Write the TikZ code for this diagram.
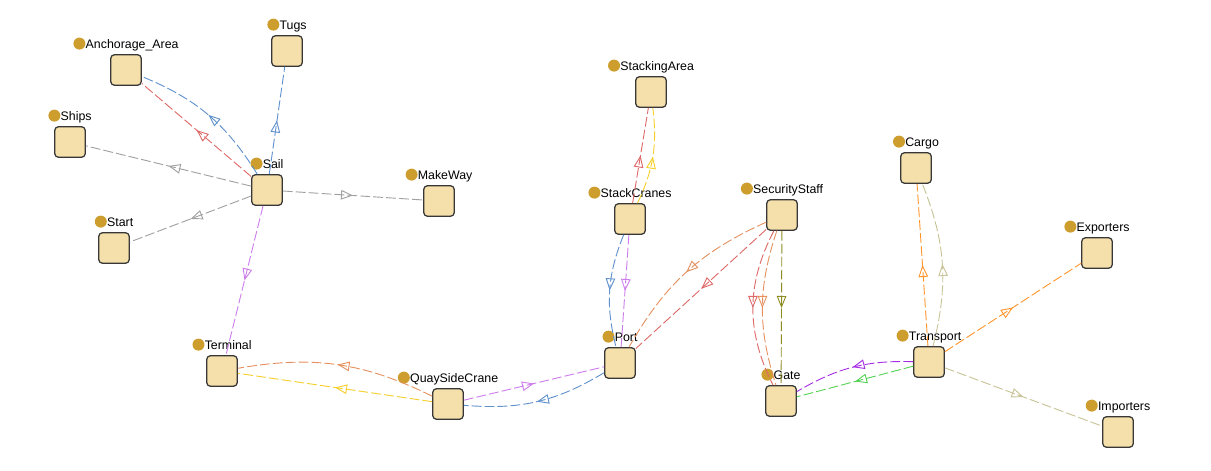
\documentclass[tikz,border=0pt]{standalone}
\usepackage{fontspec}
\setmainfont{Liberation Sans}
\usepackage{xcolor}
\usetikzlibrary{arrows.meta,decorations.markings}
\definecolor{boxfill}{RGB}{245,223,170}
\definecolor{boxline}{RGB}{55,55,55}
\definecolor{dotgold}{RGB}{205,158,45}
\definecolor{cgray}{RGB}{160,160,160}
\definecolor{cred}{RGB}{222,105,105}
\definecolor{cblue}{RGB}{95,145,205}
\definecolor{cviolet}{RGB}{205,125,235}
\definecolor{corange}{RGB}{228,145,95}
\definecolor{cyellow}{RGB}{245,208,45}
\definecolor{colive}{RGB}{140,140,35}
\definecolor{cpurple}{RGB}{165,45,230}
\definecolor{cgreen}{RGB}{85,210,85}
\definecolor{camber}{RGB}{255,150,45}
\definecolor{ckhaki}{RGB}{200,195,150}
\newcommand{\dotm}{\tikz[baseline=-3.5pt]\fill[dotgold] (0,0) circle (0.15cm);\hspace{0.2pt}}

\begin{document}
\begin{tikzpicture}[x=0.025cm, y=0.025cm,
  every node/.style={font=\fontsize{8.8}{10}\selectfont},
  lbl/.style={inner sep=0pt, outer sep=0pt, text depth=0pt, label distance=4pt},
  box/.style={draw=boxline, fill=boxfill, line width=0.9pt, rounded corners=2.5pt,
              minimum size=0.76cm, inner sep=0pt},
  link/.style={line width=0.65pt, dash pattern=on 7pt off 2.2pt,
               postaction={decorate},
               decoration={markings, mark=at position 0.5 with
                 {\arrow{Triangle[open, length=3mm, width=2.4mm]}}}}
]
\useasboundingbox (0,0) rectangle (1211,-471);
% concepts
\node[box, label={[lbl]above:\dotm Anchorage\_Area}] (anchorage) at (126,-70) {};
\node[box, label={[lbl]above:\dotm Tugs}] (tugs) at (287,-51) {};
\node[box, label={[lbl]above:\dotm Ships}] (ships) at (70,-142) {};
\node[box, label={[lbl]above:\dotm Sail}] (sail) at (267,-190) {};
\node[box, label={[lbl]above:\dotm Start}] (start) at (114,-248) {};
\node[box, label={[lbl]above:\dotm MakeWay}] (makeway) at (439,-201) {};
\node[box, label={[lbl]above:\dotm StackingArea}] (stackarea) at (651,-92) {};
\node[box, label={[lbl]above:\dotm StackCranes}] (stackcranes) at (630,-219) {};
\node[box, label={[lbl]above:\dotm SecurityStaff}] (security) at (782,-215) {};
\node[box, label={[lbl]above:\dotm Cargo}] (cargo) at (916,-168) {};
\node[box, label={[lbl]above:\dotm Exporters}] (exporters) at (1097,-253) {};
\node[box, label={[lbl]above:\dotm Terminal}] (terminal) at (222,-371) {};
\node[box, label={[lbl]above:\dotm QuaySideCrane}] (quaycrane) at (448,-404) {};
\node[box, label={[lbl]above:\dotm Port}] (port) at (620,-363) {};
\node[box, label={[lbl]above:\dotm Gate}] (gate) at (781,-401) {};
\node[box, label={[lbl]above:\dotm Transport}] (transport) at (929,-362) {};
\node[box, label={[lbl]above:\dotm Importers}] (importers) at (1118,-432) {};
% relations
\draw[link, cred] (sail) -- (anchorage);
\draw[link, cblue] (sail) to[bend right=18] (anchorage);
\draw[link, cblue] (sail) -- (tugs);
\draw[link, cgray] (sail) -- (ships);
\draw[link, cgray] (sail) -- (start);
\draw[link, cgray] (sail) -- (makeway);
\draw[link, cviolet] (sail) -- (terminal);
\draw[link, corange] (quaycrane) to[bend right=18] (terminal);
\draw[link, cyellow] (quaycrane) -- (terminal);
\draw[link, cviolet] (quaycrane) -- (port);
\draw[link, cblue] (port) to[bend left=18] (quaycrane);
\draw[link, cred] (stackcranes) -- (stackarea);
\draw[link, cyellow] (stackcranes) to[bend right=16] (stackarea);
\draw[link, cblue] (stackcranes) to[bend right=18] (port);
\draw[link, cviolet] (stackcranes) -- (port);
\draw[link, corange] (security) to[bend right=18] (port);
\draw[link, cred] (security) -- (port);
\draw[link, cred] (security) to[bend right=27] (gate);
\draw[link, corange] (security) to[bend right=18] (gate);
\draw[link, colive] (security) -- (gate);
\draw[link, cpurple] (transport) to[bend right=16] (gate);
\draw[link, cgreen] (transport) -- (gate);
\draw[link, camber] (transport) -- (cargo);
\draw[link, ckhaki] (transport) to[bend right=18] (cargo);
\draw[link, camber] (transport) -- (exporters);
\draw[link, ckhaki] (transport) -- (importers);
\end{tikzpicture}
\end{document}
